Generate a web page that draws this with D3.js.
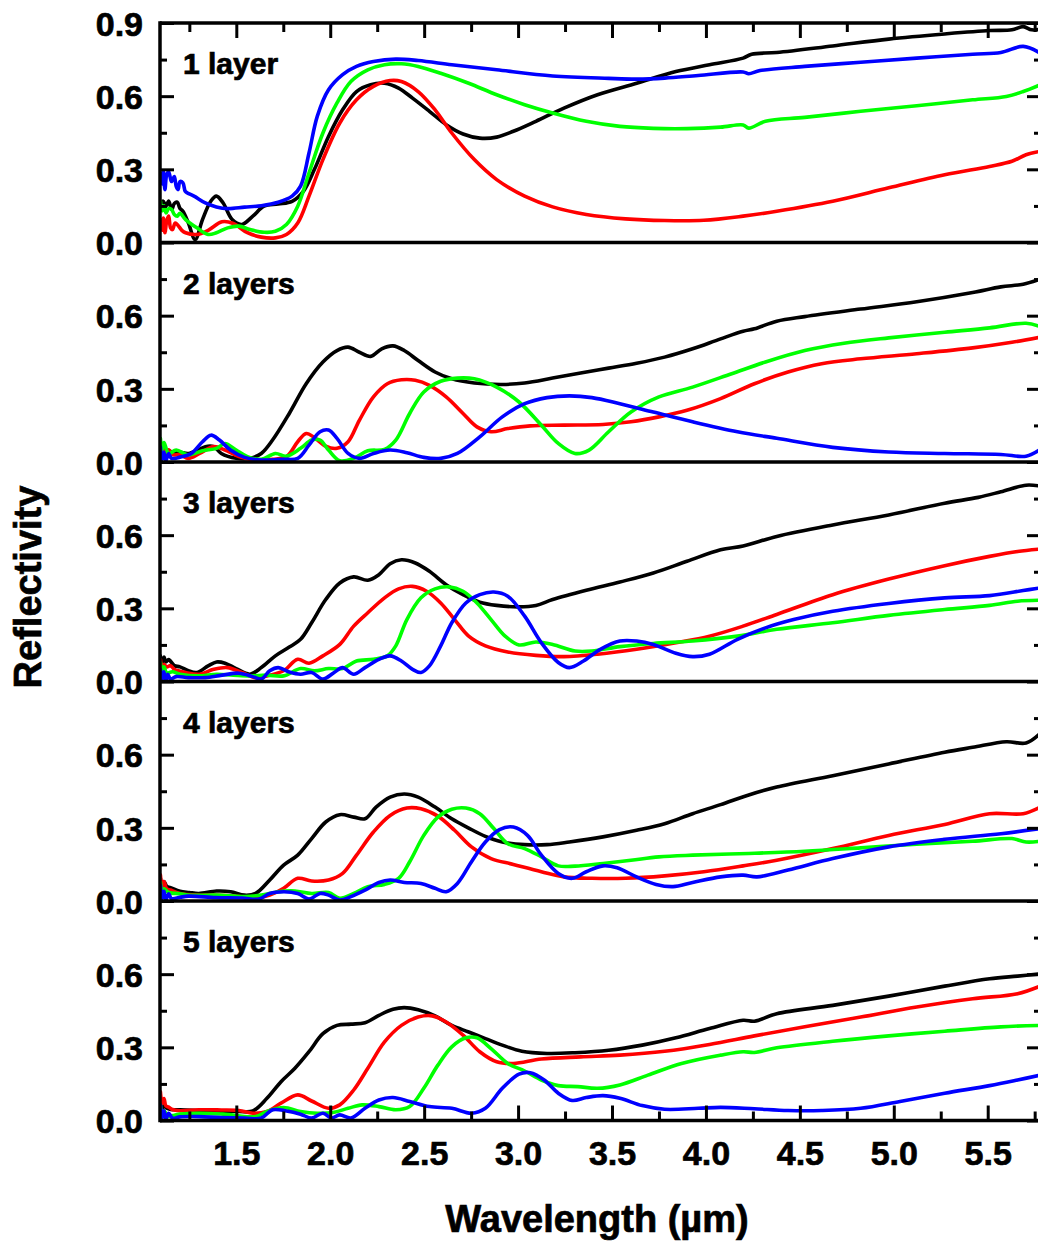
<!DOCTYPE html>
<html><head><meta charset="utf-8">
<script src="https://cdn.jsdelivr.net/npm/d3@7"></script>
<style>
html,body{margin:0;padding:0;background:#fff;}
svg{display:block;}
text{font-family:"Liberation Sans",Arial,Helvetica,sans-serif;font-weight:bold;fill:#000;stroke:#000;stroke-width:0.7px;}
</style></head>
<body>
<svg id="chart" width="1038" height="1245"></svg>
<script>
// ---------- data ----------
const panelLabels = ["1 layer","2 layers","3 layers","4 layers","5 layers"];
const seriesColors = ["#000000","#ff0000","#00ff00","#0000ff"]; // black, red, green, blue
const xMajorTicks = [1.5,2.0,2.5,3.0,3.5,4.0,4.5,5.0,5.5];
const xMinorTicks = [1.25,1.75,2.25,2.75,3.25,3.75,4.25,4.75,5.25,5.75];
const yTicksFirst = [0.0,0.3,0.6,0.9];
const yTicksOther = [0.0,0.3,0.6];
const yMinorTicks = [0.15,0.45,0.75];

// Panel 1 (1 layer)
const p1Black = [[1.096,.156],[1.11,.17],[1.126,.15],[1.14,.17],[1.156,.135],[1.17,.16],[1.186,.165],[1.2,.14],[1.216,.128],[1.245,.08],[1.281,.012],[1.32,.094],[1.364,.169],[1.394,.19],[1.43,.162],[1.478,.094],[1.529,.074],[1.588,.108],[1.648,.149],[1.723,.158],[1.797,.169],[1.857,.21],[1.916,.30],[1.991,.435],[2.066,.544],[2.14,.619],[2.215,.647],[2.289,.653],[2.364,.633],[2.438,.592],[2.528,.538],[2.617,.483],[2.707,.445],[2.796,.428],[2.886,.432],[2.975,.456],[3.095,.497],[3.244,.551],[3.423,.606],[3.631,.653],[3.84,.701],[4.019,.729],[4.198,.756],[4.243,.772],[4.377,.779],[4.675,.806],[4.973,.834],[5.271,.855],[5.51,.869],[5.629,.872],[5.689,.885],[5.734,.872],[5.78,.874]];
const p1Red = [[1.096,.094],[1.105,.05],[1.112,.1],[1.12,.04],[1.13,.09],[1.14,.108],[1.15,.06],[1.16,.053],[1.175,.08],[1.19,.07],[1.21,.05],[1.23,.04],[1.29,.033],[1.35,.05],[1.424,.085],[1.484,.078],[1.559,.04],[1.633,.022],[1.708,.019],[1.767,.033],[1.827,.08],[1.887,.19],[1.961,.34],[2.051,.49],[2.14,.585],[2.23,.64],[2.319,.664],[2.379,.66],[2.468,.619],[2.558,.544],[2.647,.449],[2.767,.34],[2.886,.258],[3.035,.19],[3.184,.146],[3.363,.115],[3.572,.097],[3.78,.09],[3.989,.091],[4.198,.108],[4.377,.128],[4.675,.169],[4.973,.224],[5.271,.278],[5.51,.312],[5.629,.333],[5.704,.36],[5.78,.374]];
const p1Green = [[1.096,.169],[1.105,.13],[1.115,.15],[1.126,.121],[1.14,.14],[1.156,.135],[1.17,.115],[1.186,.108],[1.2,.12],[1.23,.094],[1.29,.06],[1.35,.033],[1.394,.04],[1.454,.06],[1.514,.067],[1.573,.053],[1.648,.042],[1.708,.046],[1.767,.074],[1.827,.149],[1.887,.285],[1.961,.449],[2.036,.572],[2.11,.66],[2.2,.708],[2.289,.729],[2.379,.733],[2.468,.722],[2.588,.694],[2.737,.653],[2.886,.606],[3.035,.565],[3.184,.531],[3.363,.497],[3.542,.476],[3.72,.468],[3.899,.467],[4.078,.473],[4.198,.482],[4.228,.469],[4.317,.497],[4.526,.513],[4.824,.538],[5.122,.561],[5.42,.585],[5.599,.599],[5.689,.619],[5.78,.647]];
const p1Blue = [[1.096,.285],[1.105,.24],[1.112,.29],[1.12,.217],[1.13,.28],[1.14,.29],[1.155,.25],[1.17,.27],[1.18,.23],[1.19,.217],[1.2,.25],[1.216,.244],[1.228,.21],[1.24,.203],[1.275,.19],[1.335,.162],[1.394,.146],[1.454,.139],[1.544,.145],[1.633,.151],[1.723,.165],[1.797,.19],[1.842,.231],[1.887,.367],[1.931,.517],[1.991,.626],[2.066,.688],[2.14,.722],[2.23,.742],[2.349,.752],[2.468,.746],[2.647,.729],[2.886,.708],[3.184,.683],[3.482,.673],[3.631,.670],[3.78,.674],[3.959,.685],[4.198,.699],[4.228,.692],[4.288,.705],[4.526,.722],[4.824,.739],[5.122,.756],[5.42,.772],[5.57,.779],[5.689,.804],[5.78,.776]];

// Panel 2 (2 layers)
const p2Black = [[1.096,.056],[1.11,.03],[1.125,.05],[1.156,.042],[1.2,.04],[1.245,.035],[1.3,.05],[1.335,.063],[1.38,.063],[1.42,.035],[1.499,.015],[1.573,.015],[1.633,.035],[1.693,.09],[1.782,.199],[1.872,.321],[1.961,.41],[2.036,.457],[2.095,.471],[2.155,.45],[2.215,.433],[2.274,.464],[2.334,.476],[2.394,.457],[2.468,.416],[2.558,.369],[2.647,.341],[2.767,.324],[2.916,.318],[3.035,.324],[3.184,.344],[3.333,.365],[3.482,.385],[3.631,.405],[3.78,.43],[3.929,.464],[4.078,.505],[4.198,.536],[4.258,.546],[4.377,.577],[4.526,.596],[4.824,.627],[5.122,.657],[5.42,.695],[5.57,.718],[5.689,.729],[5.78,.75]];
const p2Red = [[1.096,.076],[1.105,.04],[1.115,.07],[1.125,.035],[1.14,.05],[1.16,.03],[1.2,.03],[1.245,.015],[1.305,.035],[1.38,.063],[1.44,.049],[1.514,.022],[1.603,.008],[1.693,.011],[1.767,.022],[1.827,.083],[1.872,.117],[1.916,.1],[1.976,.065],[2.036,.056],[2.095,.083],[2.155,.171],[2.23,.267],[2.304,.321],[2.379,.337],[2.453,.335],[2.528,.314],[2.617,.267],[2.707,.199],[2.781,.144],[2.856,.124],[2.945,.137],[3.065,.148],[3.244,.151],[3.452,.154],[3.601,.165],[3.75,.185],[3.899,.212],[4.078,.26],[4.258,.321],[4.437,.369],[4.616,.403],[4.824,.423],[5.122,.444],[5.42,.468],[5.629,.491],[5.78,.512]];
const p2Green = [[1.096,.097],[1.105,.05],[1.115,.08],[1.14,.035],[1.18,.049],[1.245,.029],[1.32,.046],[1.395,.056],[1.44,.076],[1.499,.049],[1.559,.022],[1.633,.011],[1.708,.035],[1.767,.024],[1.842,.056],[1.901,.09],[1.946,.09],[1.991,.049],[2.051,.005],[2.125,.015],[2.2,.046],[2.289,.052],[2.349,.09],[2.423,.199],[2.498,.287],[2.588,.331],[2.677,.344],[2.767,.341],[2.886,.307],[3.005,.246],[3.124,.151],[3.214,.076],[3.303,.035],[3.378,.049],[3.482,.124],[3.601,.205],[3.75,.267],[3.929,.307],[4.137,.362],[4.317,.41],[4.526,.457],[4.735,.487],[4.973,.509],[5.271,.532],[5.51,.55],[5.704,.569],[5.78,.555]];
const p2Blue = [[1.096,.062],[1.105,.01],[1.115,.04],[1.125,.005],[1.14,.035],[1.155,.015],[1.2,.02],[1.26,.035],[1.32,.083],[1.365,.11],[1.41,.09],[1.469,.049],[1.544,.019],[1.633,.008],[1.752,.011],[1.827,.015],[1.887,.069],[1.946,.124],[1.991,.131],[2.036,.097],[2.095,.035],[2.155,.015],[2.23,.035],[2.319,.049],[2.408,.038],[2.498,.019],[2.588,.015],[2.677,.035],[2.796,.103],[2.916,.185],[3.035,.239],[3.154,.264],[3.273,.271],[3.393,.264],[3.542,.239],[3.72,.205],[3.929,.165],[4.168,.124],[4.377,.097],[4.675,.06],[4.973,.041],[5.271,.035],[5.57,.031],[5.704,.024],[5.78,.052]];

// Panel 3 (3 layers)
const p3Black = [[1.096,.105],[1.105,.07],[1.115,.1],[1.125,.08],[1.14,.09],[1.17,.065],[1.2,.06],[1.245,.044],[1.29,.037],[1.35,.064],[1.395,.08],[1.44,.075],[1.499,.053],[1.573,.03],[1.633,.057],[1.708,.105],[1.782,.141],[1.842,.173],[1.901,.241],[1.976,.336],[2.051,.404],[2.125,.429],[2.2,.415],[2.259,.438],[2.319,.483],[2.379,.499],[2.453,.486],[2.528,.452],[2.617,.397],[2.707,.356],[2.796,.325],[2.886,.312],[3.005,.306],[3.095,.312],[3.184,.336],[3.363,.374],[3.542,.408],[3.72,.445],[3.899,.493],[4.078,.54],[4.198,.556],[4.377,.595],[4.675,.642],[4.973,.683],[5.271,.731],[5.45,.755],[5.57,.778],[5.704,.805],[5.78,.801]];
const p3Red = [[1.096,.09],[1.105,.05],[1.115,.07],[1.13,.06],[1.15,.065],[1.17,.05],[1.23,.037],[1.305,.03],[1.38,.05],[1.454,.057],[1.529,.037],[1.603,.016],[1.678,.026],[1.752,.044],[1.827,.091],[1.887,.075],[1.961,.105],[2.051,.152],[2.125,.227],[2.2,.282],[2.289,.343],[2.364,.38],[2.438,.39],[2.513,.37],[2.588,.322],[2.662,.254],[2.737,.186],[2.826,.146],[2.945,.121],[3.095,.107],[3.244,.102],[3.423,.112],[3.631,.132],[3.84,.159],[4.019,.186],[4.198,.227],[4.377,.275],[4.675,.356],[4.973,.42],[5.271,.475],[5.51,.513],[5.659,.533],[5.78,.543]];
const p3Green = [[1.096,.078],[1.105,.04],[1.115,.06],[1.13,.035],[1.16,.04],[1.2,.03],[1.3,.023],[1.395,.03],[1.484,.026],[1.573,.023],[1.663,.026],[1.752,.023],[1.842,.053],[1.916,.044],[1.991,.053],[2.066,.053],[2.14,.084],[2.23,.091],[2.304,.105],[2.349,.146],[2.408,.254],[2.483,.343],[2.558,.38],[2.632,.388],[2.707,.37],[2.781,.322],[2.856,.254],[2.931,.186],[3.005,.15],[3.095,.162],[3.184,.152],[3.303,.125],[3.393,.125],[3.542,.143],[3.72,.156],[3.929,.166],[4.168,.186],[4.377,.214],[4.675,.241],[4.973,.271],[5.271,.295],[5.51,.312],[5.659,.329],[5.78,.333]];
const p3Blue = [[1.096,.05],[1.105,.01],[1.115,.04],[1.125,.0],[1.135,.03],[1.15,.01],[1.18,.02],[1.245,.016],[1.335,.016],[1.424,.026],[1.514,.034],[1.588,.02],[1.633,.01],[1.678,.044],[1.723,.057],[1.782,.039],[1.842,.03],[1.901,.037],[1.961,.01],[2.021,.037],[2.066,.057],[2.125,.03],[2.185,.057],[2.259,.091],[2.319,.105],[2.379,.084],[2.438,.05],[2.483,.037],[2.528,.064],[2.588,.146],[2.647,.241],[2.722,.322],[2.796,.356],[2.871,.367],[2.945,.35],[3.035,.268],[3.124,.159],[3.214,.078],[3.273,.057],[3.348,.084],[3.438,.132],[3.542,.166],[3.631,.166],[3.72,.152],[3.84,.116],[3.929,.102],[4.019,.112],[4.168,.173],[4.317,.22],[4.467,.254],[4.675,.288],[4.973,.32],[5.271,.343],[5.51,.352],[5.689,.373],[5.78,.384]];

// Panel 4 (4 layers)
const p4Black = [[1.096,.093],[1.105,.06],[1.115,.08],[1.13,.06],[1.15,.055],[1.2,.04],[1.25,.035],[1.3,.031],[1.395,.041],[1.47,.038],[1.544,.024],[1.603,.031],[1.678,.086],[1.752,.147],[1.827,.188],[1.901,.256],[1.976,.324],[2.051,.354],[2.125,.344],[2.185,.337],[2.244,.385],[2.319,.426],[2.394,.439],[2.468,.426],[2.558,.385],[2.647,.337],[2.737,.299],[2.826,.265],[2.916,.242],[3.035,.231],[3.154,.231],[3.273,.242],[3.452,.263],[3.631,.29],[3.78,.317],[3.929,.358],[4.078,.395],[4.228,.435],[4.377,.467],[4.675,.514],[4.973,.562],[5.271,.61],[5.42,.63],[5.599,.653],[5.704,.648],[5.78,.688]];
const p4Red = [[1.096,.107],[1.105,.06],[1.115,.08],[1.13,.05],[1.15,.045],[1.2,.031],[1.29,.024],[1.38,.024],[1.514,.018],[1.603,.011],[1.678,.024],[1.752,.052],[1.827,.093],[1.901,.082],[1.991,.086],[2.066,.113],[2.14,.188],[2.23,.283],[2.319,.351],[2.408,.381],[2.483,.378],[2.573,.348],[2.662,.29],[2.752,.222],[2.856,.174],[2.975,.15],[3.124,.12],[3.244,.099],[3.393,.093],[3.572,.093],[3.78,.103],[3.989,.12],[4.198,.144],[4.377,.167],[4.675,.215],[4.973,.269],[5.271,.314],[5.51,.358],[5.689,.358],[5.78,.385]];
const p4Green = [[1.096,.078],[1.105,.04],[1.115,.05],[1.14,.035],[1.2,.03],[1.245,.024],[1.395,.024],[1.544,.018],[1.633,.024],[1.723,.038],[1.812,.041],[1.901,.031],[1.991,.035],[2.051,.011],[2.125,.031],[2.2,.059],[2.289,.068],[2.364,.093],[2.423,.161],[2.498,.269],[2.573,.344],[2.647,.376],[2.722,.381],[2.796,.358],[2.871,.297],[2.945,.235],[3.035,.215],[3.124,.181],[3.214,.144],[3.303,.143],[3.452,.154],[3.601,.167],[3.75,.181],[3.929,.188],[4.228,.195],[4.526,.204],[4.824,.218],[5.122,.233],[5.42,.245],[5.629,.256],[5.704,.242],[5.78,.245]];
const p4Blue = [[1.096,.065],[1.105,.01],[1.115,.04],[1.125,.005],[1.14,.03],[1.155,.01],[1.2,.015],[1.245,.02],[1.39,.014],[1.53,.012],[1.621,.008],[1.678,.031],[1.752,.038],[1.827,.031],[1.887,.008],[1.946,.031],[1.991,.024],[2.051,.004],[2.11,.018],[2.185,.045],[2.259,.076],[2.319,.086],[2.394,.076],[2.483,.072],[2.558,.052],[2.617,.038],[2.677,.072],[2.752,.161],[2.826,.242],[2.901,.293],[2.975,.303],[3.05,.269],[3.124,.188],[3.214,.113],[3.288,.093],[3.363,.12],[3.452,.144],[3.527,.136],[3.631,.099],[3.735,.068],[3.825,.059],[3.929,.076],[4.078,.099],[4.198,.106],[4.272,.099],[4.437,.127],[4.675,.174],[4.973,.222],[5.271,.253],[5.57,.276],[5.78,.297]];

// Panel 5 (5 layers)
const p5Black = [[1.096,.078],[1.105,.05],[1.115,.06],[1.13,.05],[1.15,.045],[1.2,.044],[1.3,.041],[1.4,.039],[1.514,.037],[1.588,.039],[1.663,.091],[1.738,.159],[1.812,.214],[1.887,.282],[1.961,.356],[2.036,.39],[2.11,.395],[2.185,.401],[2.259,.431],[2.334,.456],[2.394,.463],[2.468,.454],[2.558,.429],[2.647,.39],[2.737,.363],[2.826,.336],[2.916,.309],[3.02,.284],[3.154,.275],[3.303,.278],[3.482,.288],[3.661,.309],[3.84,.339],[4.019,.377],[4.198,.411],[4.258,.407],[4.377,.438],[4.675,.472],[4.973,.51],[5.271,.551],[5.51,.581],[5.659,.592],[5.78,.601]];
const p5Red = [[1.096,.118],[1.105,.07],[1.115,.09],[1.125,.06],[1.14,.055],[1.16,.045],[1.2,.04],[1.3,.044],[1.42,.043],[1.514,.041],[1.588,.03],[1.663,.037],[1.738,.071],[1.827,.105],[1.901,.08],[1.991,.05],[2.051,.064],[2.125,.125],[2.2,.214],[2.289,.322],[2.379,.39],[2.468,.424],[2.543,.429],[2.617,.404],[2.707,.35],[2.796,.282],[2.886,.241],[2.975,.234],[3.124,.252],[3.333,.261],[3.542,.268],[3.78,.284],[4.019,.312],[4.258,.347],[4.526,.384],[4.824,.424],[5.122,.465],[5.42,.499],[5.659,.52],[5.78,.551]];
const p5Green = [[1.096,.064],[1.105,.02],[1.115,.04],[1.14,.016],[1.16,.02],[1.2,.026],[1.3,.03],[1.43,.026],[1.603,.016],[1.663,.037],[1.752,.053],[1.842,.037],[1.931,.03],[2.021,.034],[2.095,.05],[2.17,.064],[2.259,.057],[2.349,.044],[2.423,.057],[2.498,.132],[2.573,.227],[2.647,.302],[2.722,.339],[2.781,.339],[2.856,.295],[2.945,.234],[3.035,.203],[3.124,.166],[3.214,.143],[3.318,.139],[3.423,.132],[3.542,.146],[3.691,.186],[3.87,.234],[4.078,.268],[4.198,.282],[4.258,.279],[4.377,.298],[4.675,.325],[4.973,.347],[5.271,.366],[5.57,.384],[5.78,.39]];
const p5Blue = [[1.096,.064],[1.105,.01],[1.115,.04],[1.125,.005],[1.14,.03],[1.16,.01],[1.2,.015],[1.3,.016],[1.42,.012],[1.544,.01],[1.633,.01],[1.693,.044],[1.767,.039],[1.842,.026],[1.901,.01],[1.961,.03],[2.006,.01],[2.051,.023],[2.11,.01],[2.185,.05],[2.259,.084],[2.334,.094],[2.423,.078],[2.528,.057],[2.647,.05],[2.752,.03],[2.826,.05],[2.916,.132],[3.005,.19],[3.065,.196],[3.139,.166],[3.214,.112],[3.288,.082],[3.363,.094],[3.452,.102],[3.542,.091],[3.661,.061],[3.78,.046],[3.959,.05],[4.078,.054],[4.258,.048],[4.437,.041],[4.616,.041],[4.824,.05],[5.033,.078],[5.271,.112],[5.51,.143],[5.659,.166],[5.78,.186]];

const panelSeries = [
  [p1Black,p1Red,p1Green,p1Blue],
  [p2Black,p2Red,p2Green,p2Blue],
  [p3Black,p3Red,p3Green,p3Blue],
  [p4Black,p4Red,p4Green,p4Blue],
  [p5Black,p5Red,p5Green,p5Blue]
];

// ---------- layout ----------
const svg = d3.select("#chart");
const left = 160, right = 1041, top0 = 23, panelH = 219.5;
const x = d3.scaleLinear().domain([1.0938, 5.7837]).range([left, right]);
const fmt = d3.format(".1f");

const defs = svg.append("defs");

panelSeries.forEach((series, i) => {
  const top = top0 + i * panelH, bottom = top + panelH;
  const y = d3.scaleLinear().domain([0, 0.9]).range([bottom, top]);
  const g = svg.append("g");

  defs.append("clipPath").attr("id", "clip" + i)
    .append("rect").attr("x", left).attr("y", top).attr("width", right - left).attr("height", panelH);

  const line = d3.line().x(d => x(d[0])).y(d => y(d[1])).curve(d3.curveCatmullRom.alpha(0.5));
  const lines = g.append("g").attr("clip-path", "url(#clip" + i + ")");
  series.forEach((s, k) => {
    lines.append("path").datum(s).attr("d", line)
      .attr("fill", "none").attr("stroke", seriesColors[k])
      .attr("stroke-width", 3.6).attr("stroke-linejoin", "round").attr("stroke-linecap", "round");
  });

  // left axis major with labels
  const yt = i === 0 ? yTicksFirst : yTicksOther;
  const la = g.append("g").attr("transform", `translate(${left},0)`)
    .call(d3.axisLeft(y).tickValues(yt).tickSize(-14).tickPadding(17).tickFormat(fmt));
  la.select(".domain").remove();
  la.selectAll("line").attr("stroke", "#000").attr("stroke-width", 3);
  la.selectAll("text").attr("font-size", 34).attr("font-family", '"Liberation Sans",Arial,sans-serif').attr("font-weight", "bold").attr("dy", "0.36em");
  const lm = g.append("g").attr("transform", `translate(${left},0)`)
    .call(d3.axisLeft(y).tickValues(yMinorTicks).tickSize(-7).tickFormat(""));
  lm.select(".domain").remove();
  lm.selectAll("line").attr("stroke", "#000").attr("stroke-width", 3);

  // right axis
  const ra = g.append("g").attr("transform", `translate(${right},0)`)
    .call(d3.axisRight(y).tickValues(yt).tickSize(-14).tickFormat(""));
  ra.select(".domain").remove();
  ra.selectAll("line").attr("stroke", "#000").attr("stroke-width", 3);
  const rm = g.append("g").attr("transform", `translate(${right},0)`)
    .call(d3.axisRight(y).tickValues(yMinorTicks).tickSize(-7).tickFormat(""));
  rm.select(".domain").remove();
  rm.selectAll("line").attr("stroke", "#000").attr("stroke-width", 3);

  // panel label
  g.append("text").attr("x", 183).attr("y", top + 51).attr("font-size", 30).text(panelLabels[i]);

  // bottom line of panel
  g.append("line").attr("x1", left).attr("x2", right).attr("y1", bottom).attr("y2", bottom)
    .attr("stroke", "#000").attr("stroke-width", 3.5);

  if (i === 0) {
    g.append("line").attr("x1", left).attr("x2", right).attr("y1", top).attr("y2", top)
      .attr("stroke", "#000").attr("stroke-width", 3.5);
    const ta = g.append("g").attr("transform", `translate(0,${top})`)
      .call(d3.axisTop(x).tickValues(xMajorTicks).tickSize(-15).tickFormat(""));
    ta.select(".domain").remove();
    ta.selectAll("line").attr("stroke", "#000").attr("stroke-width", 3);
    const tm = g.append("g").attr("transform", `translate(0,${top})`)
      .call(d3.axisTop(x).tickValues(xMinorTicks).tickSize(-9).tickFormat(""));
    tm.select(".domain").remove();
    tm.selectAll("line").attr("stroke", "#000").attr("stroke-width", 3);
  }
  if (i === panelSeries.length - 1) {
    const ba = g.append("g").attr("transform", `translate(0,${bottom})`)
      .call(d3.axisBottom(x).tickValues(xMajorTicks).tickSize(-15).tickPadding(20).tickFormat(fmt));
    ba.select(".domain").remove();
    ba.selectAll("line").attr("stroke", "#000").attr("stroke-width", 3);
    ba.selectAll("text").attr("font-size", 34).attr("font-family", '"Liberation Sans",Arial,sans-serif').attr("font-weight", "bold");
    const bm = g.append("g").attr("transform", `translate(0,${bottom})`)
      .call(d3.axisBottom(x).tickValues(xMinorTicks).tickSize(-9).tickFormat(""));
    bm.select(".domain").remove();
    bm.selectAll("line").attr("stroke", "#000").attr("stroke-width", 3);
  }
});

// spines left/right
const fullTop = top0, fullBottom = top0 + panelH * 5;
svg.append("line").attr("x1", left).attr("x2", left).attr("y1", fullTop - 1.75).attr("y2", fullBottom + 1.75)
  .attr("stroke", "#000").attr("stroke-width", 3.5);
svg.append("line").attr("x1", right).attr("x2", right).attr("y1", fullTop - 1.75).attr("y2", fullBottom + 1.75)
  .attr("stroke", "#000").attr("stroke-width", 3.5);

// axis titles
svg.append("text").attr("x", 597).attr("y", 1232).attr("text-anchor", "middle").attr("font-size", 38)
  .text("Wavelength (\u00b5m)");
svg.append("text").attr("transform", "translate(41,587) rotate(-90)").attr("text-anchor", "middle")
  .attr("font-size", 38).text("Reflectivity");
</script>
</body></html>
